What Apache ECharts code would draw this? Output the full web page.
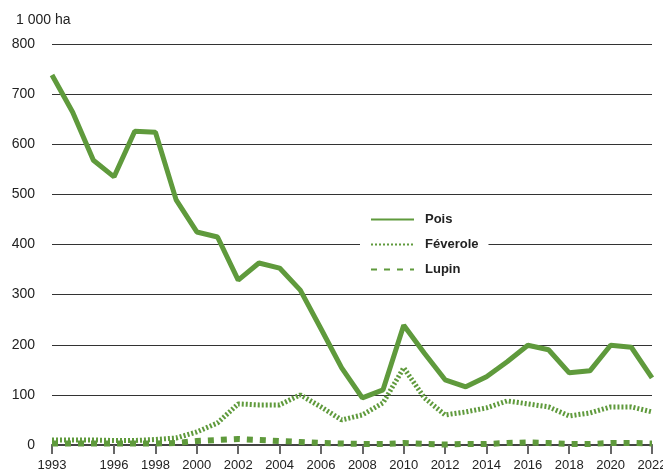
<!DOCTYPE html>
<html>
<head>
<meta charset="utf-8">
<script src="https://cdn.jsdelivr.net/npm/echarts@6/dist/echarts.min.js"></script>
<style>
  html, body { margin: 0; padding: 0; background: #fff; }
  #chart { width: 663px; height: 475px; }
</style>
</head>
<body>
<div id="chart"></div>
<script>
const years = []
for (let y = 1993; y <= 2022; y++) years.push(String(y))

const pois = [738, 664, 568, 535, 626, 624, 489, 425, 415, 329, 363, 353, 309, 232, 154, 94, 110, 239, 183, 130, 116, 136, 166, 199, 190, 144, 148, 199, 195, 134]
const feverole = [10, 10, 10, 9, 9, 11, 14, 26, 44, 82, 80, 80, 100, 76, 50, 60, 84, 154, 94, 60, 66, 74, 88, 82, 76, 58, 64, 76, 76, 66]
const lupin = [3, 3, 3, 3, 3, 3, 4, 8, 10, 12, 10, 8, 6, 4, 3, 2, 2, 4, 2, 1, 2, 2, 4, 5, 4, 2, 2, 4, 4, 3]

const shownYears = ['1993', '1996', '1998', '2000', '2002', '2004', '2006', '2008', '2010', '2012', '2014', '2016', '2018', '2020', '2022']
const green = '#5f9a3c'
const font = 'Liberation Sans'

const chart = echarts.init(document.getElementById('chart'))

chart.setOption({
  animation: false,
  title: {
    text: '1 000 ha',
    left: 11,
    top: 8,
    textStyle: { fontFamily: font, fontSize: 14, fontWeight: 'normal', color: '#222' }
  },
  legend: {
    orient: 'vertical',
    left: 360,
    top: 209,
    itemWidth: 43,
    itemHeight: 8,
    itemGap: 12,
    padding: [4, 10, 4, 10],
    backgroundColor: '#fff',
    itemStyle: { opacity: 0 },
    textStyle: { fontFamily: font, fontSize: 13, fontWeight: 'bold', color: '#222', padding: [0, 0, 0, 6] },
    data: ['Pois', 'Féverole', 'Lupin']
  },
  grid: { left: 52, right: 11, top: 44, bottom: 30, outerBoundsMode: 'none' },
  xAxis: {
    type: 'category',
    data: years,
    boundaryGap: false,
    axisLine: { show: true, onZero: false, lineStyle: { color: '#444', width: 2 } },
    axisTick: {
      show: true,
      length: 9,
      lineStyle: { color: '#666', width: 2 },
      interval: (i, v) => shownYears.includes(v)
    },
    axisLabel: {
      interval: (i, v) => shownYears.includes(v),
      margin: 14,
      fontFamily: font,
      fontSize: 13,
      color: '#222'
    }
  },
  yAxis: {
    type: 'value',
    min: 0,
    max: 800,
    interval: 100,
    axisLine: { show: false },
    axisTick: { show: false },
    axisLabel: { margin: 17, fontFamily: font, fontSize: 14, color: '#222' },
    splitLine: { lineStyle: { color: '#333', width: 1 } }
  },
  series: [
    {
      name: 'Pois',
      type: 'line',
      data: pois,
      symbol: 'none',
      z: 5,
      lineStyle: { color: green, width: 5 },
      itemStyle: { color: green }
    },
    {
      name: 'Féverole',
      type: 'line',
      data: feverole,
      symbol: 'none',
      z: 4,
      lineStyle: { color: green, width: 5, type: [2, 2] },
      itemStyle: { color: green }
    },
    {
      name: 'Lupin',
      type: 'line',
      data: lupin,
      symbol: 'none',
      z: 3,
      lineStyle: { color: green, width: 6, type: [6, 7] },
      itemStyle: { color: green }
    }
  ]
})
</script>
</body>
</html>
